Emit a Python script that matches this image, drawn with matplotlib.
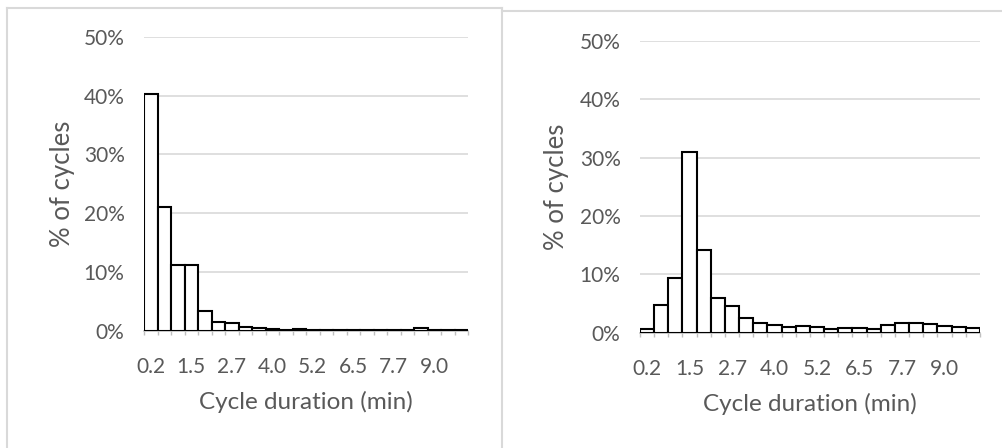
import matplotlib
matplotlib.use("Agg")
import matplotlib.pyplot as plt
import numpy as np

plt.rcParams['font.family'] = ['Lato', 'DejaVu Sans']

# Data: duration bins (min) and share of cycles (%)
durations = ["0.2", "0.6", "1.0", "1.5", "1.9", "2.3", "2.7", "3.1",
             "3.6", "4.0", "4.4", "4.8", "5.2", "5.7", "6.1", "6.5",
             "6.9", "7.3", "7.7", "8.2", "8.6", "9.0", "9.4", "9.8"]
share_left = [40.3, 21.0, 11.2, 11.2, 3.4, 1.6, 1.35, 0.6, 0.45, 0.3, 0.17, 0.28,
              0.2, 0.15, 0.15, 0.2, 0.2, 0.2, 0.25, 0.2, 0.45, 0.2, 0.15, 0.15]
share_right = [0.55, 4.7, 9.4, 31.0, 14.2, 5.9, 4.5, 2.5, 1.66, 1.37, 0.95, 1.1,
               0.86, 0.65, 0.74, 0.74, 0.65, 1.28, 1.66, 1.6, 1.5, 1.1, 0.97, 0.74]
y_ticks = [0, 10, 20, 30, 40, 50]

W, H = 1003, 448
fig = plt.figure(figsize=(W / 100, H / 100), dpi=100)

txt_color = "#595959"
grid_color = "#D9D9D9"


def px_axes(x0, x1, y_top, y_bot):
    return fig.add_axes([x0 / W, (H - y_bot) / H, (x1 - x0) / W, (y_bot - y_top) / H])


def draw_panel(ax, values, ylabelpad):
    pos = np.arange(len(durations))
    ax.bar(pos, values, width=1.0, color="white", edgecolor="black", linewidth=1.5, zorder=3)
    ax.set_xlim(-0.5, len(durations) - 0.5)
    ax.set_ylim(0, 50)
    ax.set_yticks(y_ticks)
    ax.set_yticklabels([f"{t}%" for t in y_ticks], fontsize=15, color=txt_color)
    ax.yaxis.grid(True, color=grid_color, linewidth=1.2, zorder=0)
    ax.set_axisbelow(True)
    for s in ["top", "right", "left"]:
        ax.spines[s].set_visible(False)
    ax.spines["bottom"].set_color("#BFBFBF")
    ax.spines["bottom"].set_linewidth(1.2)
    ax.tick_params(axis="y", length=0, pad=14)
    # boundary ticks without labels, category labels every third bin
    ax.set_xticks(np.arange(-0.5, len(durations), 1.0))
    ax.set_xticklabels([])
    ax.tick_params(axis="x", which="major", length=3, color="#BFBFBF", width=1)
    ax.set_xticks(pos[::3], minor=True)
    ax.set_xticklabels(durations[::3], minor=True, fontsize=15, color=txt_color)
    ax.tick_params(axis="x", which="minor", length=0, pad=19)
    ax.set_xlabel("Cycle duration (min)", fontsize=17.5, color=txt_color, labelpad=10)
    ax.set_ylabel("% of cycles", fontsize=18.5, color=txt_color, labelpad=ylabelpad)


ax1 = px_axes(144, 468, 36.7, 331)
draw_panel(ax1, share_left, 6)
ax2 = px_axes(640, 980, 41, 332.5)
draw_panel(ax2, share_right, 8)

# chart frames
frame = dict(color=grid_color, linewidth=1.5, transform=None)
fig.add_artist(plt.Line2D([6.5, 6.5], [0, H - 7.5], **frame))
fig.add_artist(plt.Line2D([6.5, 502], [H - 7.5, H - 7.5], **frame))
fig.add_artist(plt.Line2D([502, 502], [0, H - 7.5], **frame))
fig.add_artist(plt.Line2D([502, 1002], [H - 11, H - 11], **frame))

fig.savefig("out.png", dpi=100)
